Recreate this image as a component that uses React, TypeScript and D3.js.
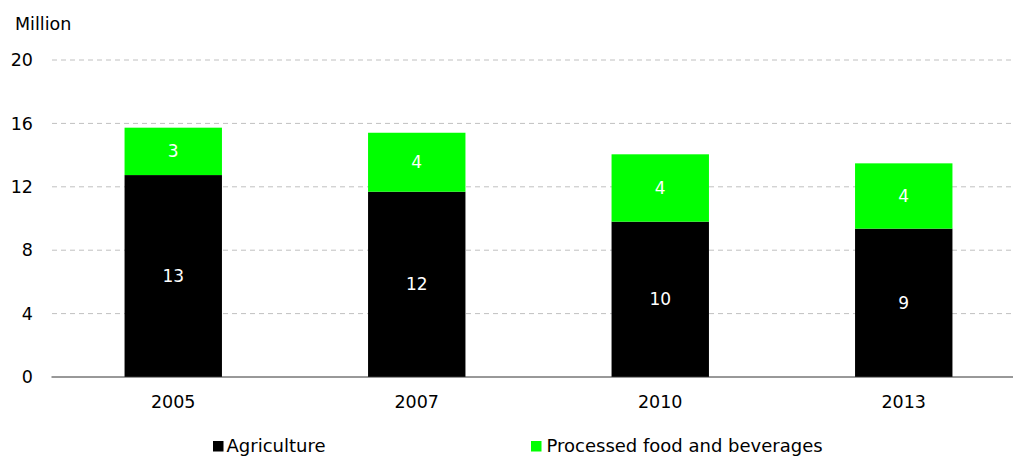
import React from "react";
import * as d3 from "d3";

const years = ["2005", "2007", "2010", "2013"];
const agriculture = [12.74, 11.69, 9.8, 9.36];
const processed = [2.99, 3.72, 4.25, 4.12];
const agricultureLabels = ["13", "12", "10", "9"];
const processedLabels = ["3", "4", "4", "4"];
const yTicks = [0, 4, 8, 12, 16, 20];

const W = 1013;
const H = 456;
const FONT = "'DejaVu Sans', Verdana, sans-serif";

export default function App() {
  const x = d3
    .scaleBand<string>()
    .domain(years)
    .range([51.5, 1025.5])
    .paddingInner(0.6)
    .paddingOuter(0.3);
  const y = d3.scaleLinear().domain([0, 20]).range([377, 60]);
  const bw = x.bandwidth();

  return (
    <svg
      width={W}
      height={H}
      style={{ position: "absolute", left: 0, top: 0 }}
      fontFamily={FONT}
    >
      <rect width={W} height={H} fill="#fff" />
      <text x={15} y={30} fontSize={17.5} fill="#000">
        Million
      </text>
      {yTicks.map((t) => (
        <g key={t}>
          {t > 0 && (
            <line
              x1={52}
              x2={W}
              y1={y(t)}
              y2={y(t)}
              stroke="#c0c0c0"
              strokeWidth={1}
              strokeDasharray="5,4"
            />
          )}
          <text
            x={33}
            y={y(t)}
            dy="0.35em"
            textAnchor="end"
            fontSize={17.5}
            fill="#000"
          >
            {t}
          </text>
        </g>
      ))}
      {years.map((yr, i) => {
        const x0 = x(yr)!;
        const a = agriculture[i];
        const p = processed[i];
        return (
          <g key={yr}>
            <rect x={x0} y={y(a)} width={bw} height={y(0) - y(a)} fill="#000" />
            <rect
              x={x0}
              y={y(a + p)}
              width={bw}
              height={y(a) - y(a + p)}
              fill="#00ff00"
            />
            <text
              x={x0 + bw / 2}
              y={(y(0) + y(a)) / 2}
              dy="0.35em"
              textAnchor="middle"
              fontSize={17}
              fill="#fff"
            >
              {agricultureLabels[i]}
            </text>
            <text
              x={x0 + bw / 2}
              y={(y(a) + y(a + p)) / 2}
              dy="0.35em"
              textAnchor="middle"
              fontSize={17}
              fill="#fff"
            >
              {processedLabels[i]}
            </text>
            <text
              x={x0 + bw / 2}
              y={401.5}
              dy="0.35em"
              textAnchor="middle"
              fontSize={17.5}
              fill="#000"
            >
              {yr}
            </text>
          </g>
        );
      })}
      <line x1={51.5} x2={W} y1={377} y2={377} stroke="#333" strokeWidth={1} />
      <g>
        <rect x={213} y={441} width={10.5} height={10.5} fill="#000" />
        <text x={226.5} y={446} dy="0.35em" fontSize={18} fill="#000">
          Agriculture
        </text>
        <rect x={531} y={441} width={10.5} height={10.5} fill="#00ff00" />
        <text x={546.5} y={446} dy="0.35em" fontSize={18} fill="#000">
          Processed food and beverages
        </text>
      </g>
    </svg>
  );
}
